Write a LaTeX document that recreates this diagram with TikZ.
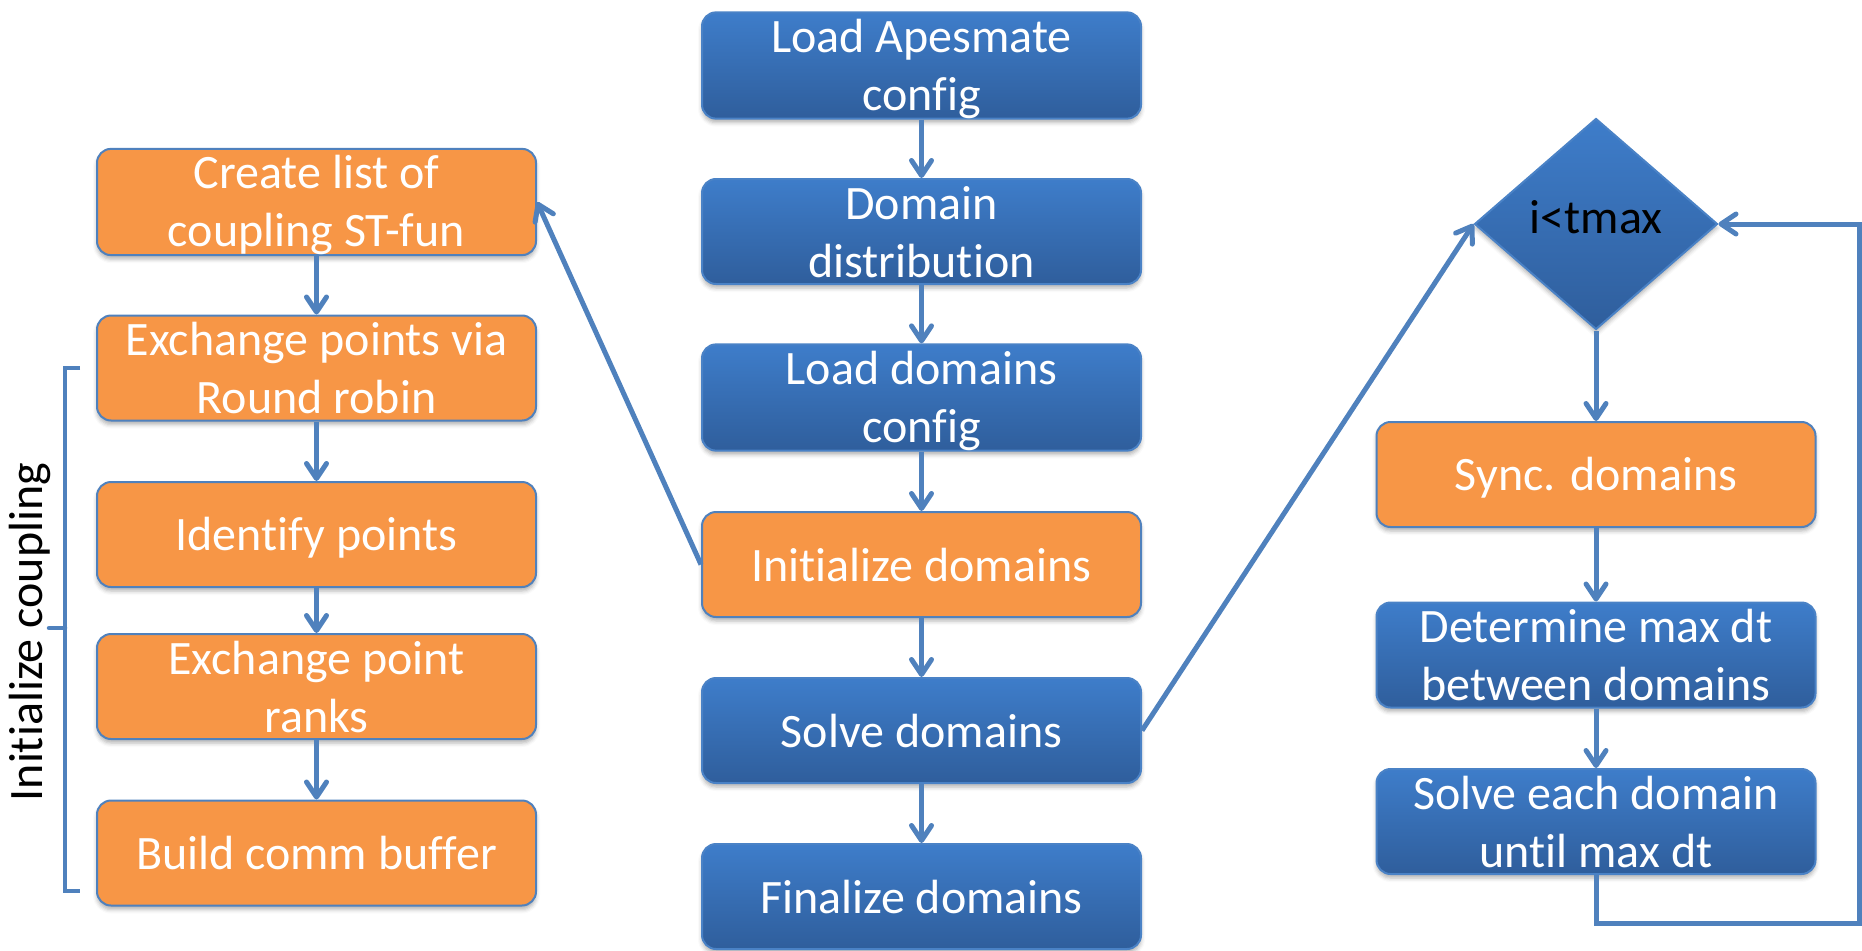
\documentclass[tikz,border=0pt]{standalone}
\usepackage{fontspec}
\setmainfont[Ligatures={NoCommon}]{Carlito}
\usetikzlibrary{arrows.meta,shapes.geometric,shadows.blur}

\definecolor{boxtop}{HTML}{3E7DCA}
\definecolor{boxbot}{HTML}{2F5E9C}
\definecolor{blueedge}{HTML}{4A82C6}
\definecolor{boxorange}{HTML}{F79646}
\definecolor{orangeedge}{HTML}{4F81BD}
\definecolor{flowline}{HTML}{4F81BD}

% one text line: fixed height and depth so every box centres its lines alike
\newcommand{\lnst}{\rule[-7pt]{0pt}{47pt}}
\newcommand{\boxfont}{\fontsize{48pt}{58pt}\selectfont}

\tikzset{
  stepbase/.style={rounded corners=14pt, line width=2pt,
    minimum width=439pt, minimum height=105pt, inner sep=0pt,
    text=white, align=center, font=\boxfont,
    blur shadow={shadow xshift=0pt, shadow yshift=-4pt,
      shadow blur radius=4pt, shadow opacity=30}},
  stepblue/.style={stepbase, draw=blueedge, top color=boxtop, bottom color=boxbot},
  steporange/.style={stepbase, draw=orangeedge, fill=boxorange},
  decision/.style={diamond, draw=blueedge, line width=2pt,
    top color=boxtop, bottom color=boxbot, inner sep=0pt,
    minimum width=243pt, minimum height=211pt, font=\boxfont,
    blur shadow={shadow xshift=0pt, shadow yshift=-4pt,
      shadow blur radius=4pt, shadow opacity=30}},
  flow/.style={draw=flowline, line width=5pt,
    -{Straight Barb[length=15pt,width=20pt,round]}},
  bracket/.style={draw=flowline, line width=4.5pt},
}

\begin{document}
\begin{tikzpicture}[x=1pt, y=-1pt]
  \useasboundingbox (0,0) rectangle (1862,950);

  % main sequence
  \node[stepblue]   (load)  at (921.5, 65.5)  {\lnst Load Apesmate\\\lnst config};
  \node[stepblue]   (dist)  at (921.5, 231.5) {\lnst Domain\\\lnst distribution};
  \node[stepblue]   (ldc)   at (921.5, 397.5) {\lnst Load domains\\\lnst config};
  \node[steporange] (init)  at (921.5, 564.5) {\lnst Initialize domains};
  \node[stepblue]   (solve) at (921.5, 730.5) {\lnst Solve domains};
  \node[stepblue]   (fin)   at (921.5, 896.5) {\lnst Finalize domains};

  % coupling initialisation
  \node[steporange] (create) at (316.5, 202)   {\lnst Create list of\\\lnst coupling ST-fun};
  \node[steporange] (exvia)  at (316.5, 368)   {\lnst Exchange points via\\\lnst Round robin};
  \node[steporange] (ident)  at (316.5, 534.5) {\lnst Identify points};
  \node[steporange] (exrank) at (316.5, 686.5) {\lnst Exchange point\\\lnst ranks};
  \node[steporange] (build)  at (316.5, 853)   {\lnst Build comm buffer};

  % time loop
  \node[decision] (dec) at (1596, 224) {};
  \node[anchor=base, font=\boxfont, text=black] (declabel) at (1596, 233) {i<tmax};
  \node[steporange] (sync) at (1596, 474.5) {\lnst Sync. domains};
  \node[stepblue]   (det)  at (1596, 655)   {\lnst Determine max dt\\\lnst between domains};
  \node[stepblue]   (each) at (1596, 821.5) {\lnst Solve each domain\\\lnst until max dt};

  % bracket with its caption
  \coordinate (brtip) at (49,628);
  \coordinate (brmid) at (65,628);
  \draw[bracket, line join=miter] (80,368) -- (65,368) -- (65,891) -- (80,891);
  \draw[bracket, line cap=round] (brmid) -- (brtip);
  \node[rotate=90, anchor=base, font=\boxfont, text=black] (cap) at (42,632) {Initialize coupling};

  % connectors
  \draw[flow] (load) -- (dist);
  \draw[flow] (dist) -- (ldc);
  \draw[flow] (ldc) -- (init);
  \draw[flow] (init) -- (solve);
  \draw[flow] (solve) -- (fin);

  \draw[flow] (init.west) -- (create.east);
  \draw[flow] (create) -- (exvia);
  \draw[flow] (exvia) -- (ident);
  \draw[flow] (ident) -- (exrank);
  \draw[flow] (exrank) -- (build);

  \draw[flow] (solve.east) -- (dec.west);
  \draw[flow] (dec.south) -- (sync.north);
  \draw[flow] (sync) -- (det);
  \draw[flow] (det) -- (each);

  \coordinate (lpa) at (1596, 923);
  \coordinate (lpb) at (1859, 923);
  \coordinate (lpc) at (1859, 224);
  \draw[flow, line join=miter] (each.south) -- (lpa) -- (lpb) -- (lpc) -- (dec.east);
\end{tikzpicture}
\end{document}
